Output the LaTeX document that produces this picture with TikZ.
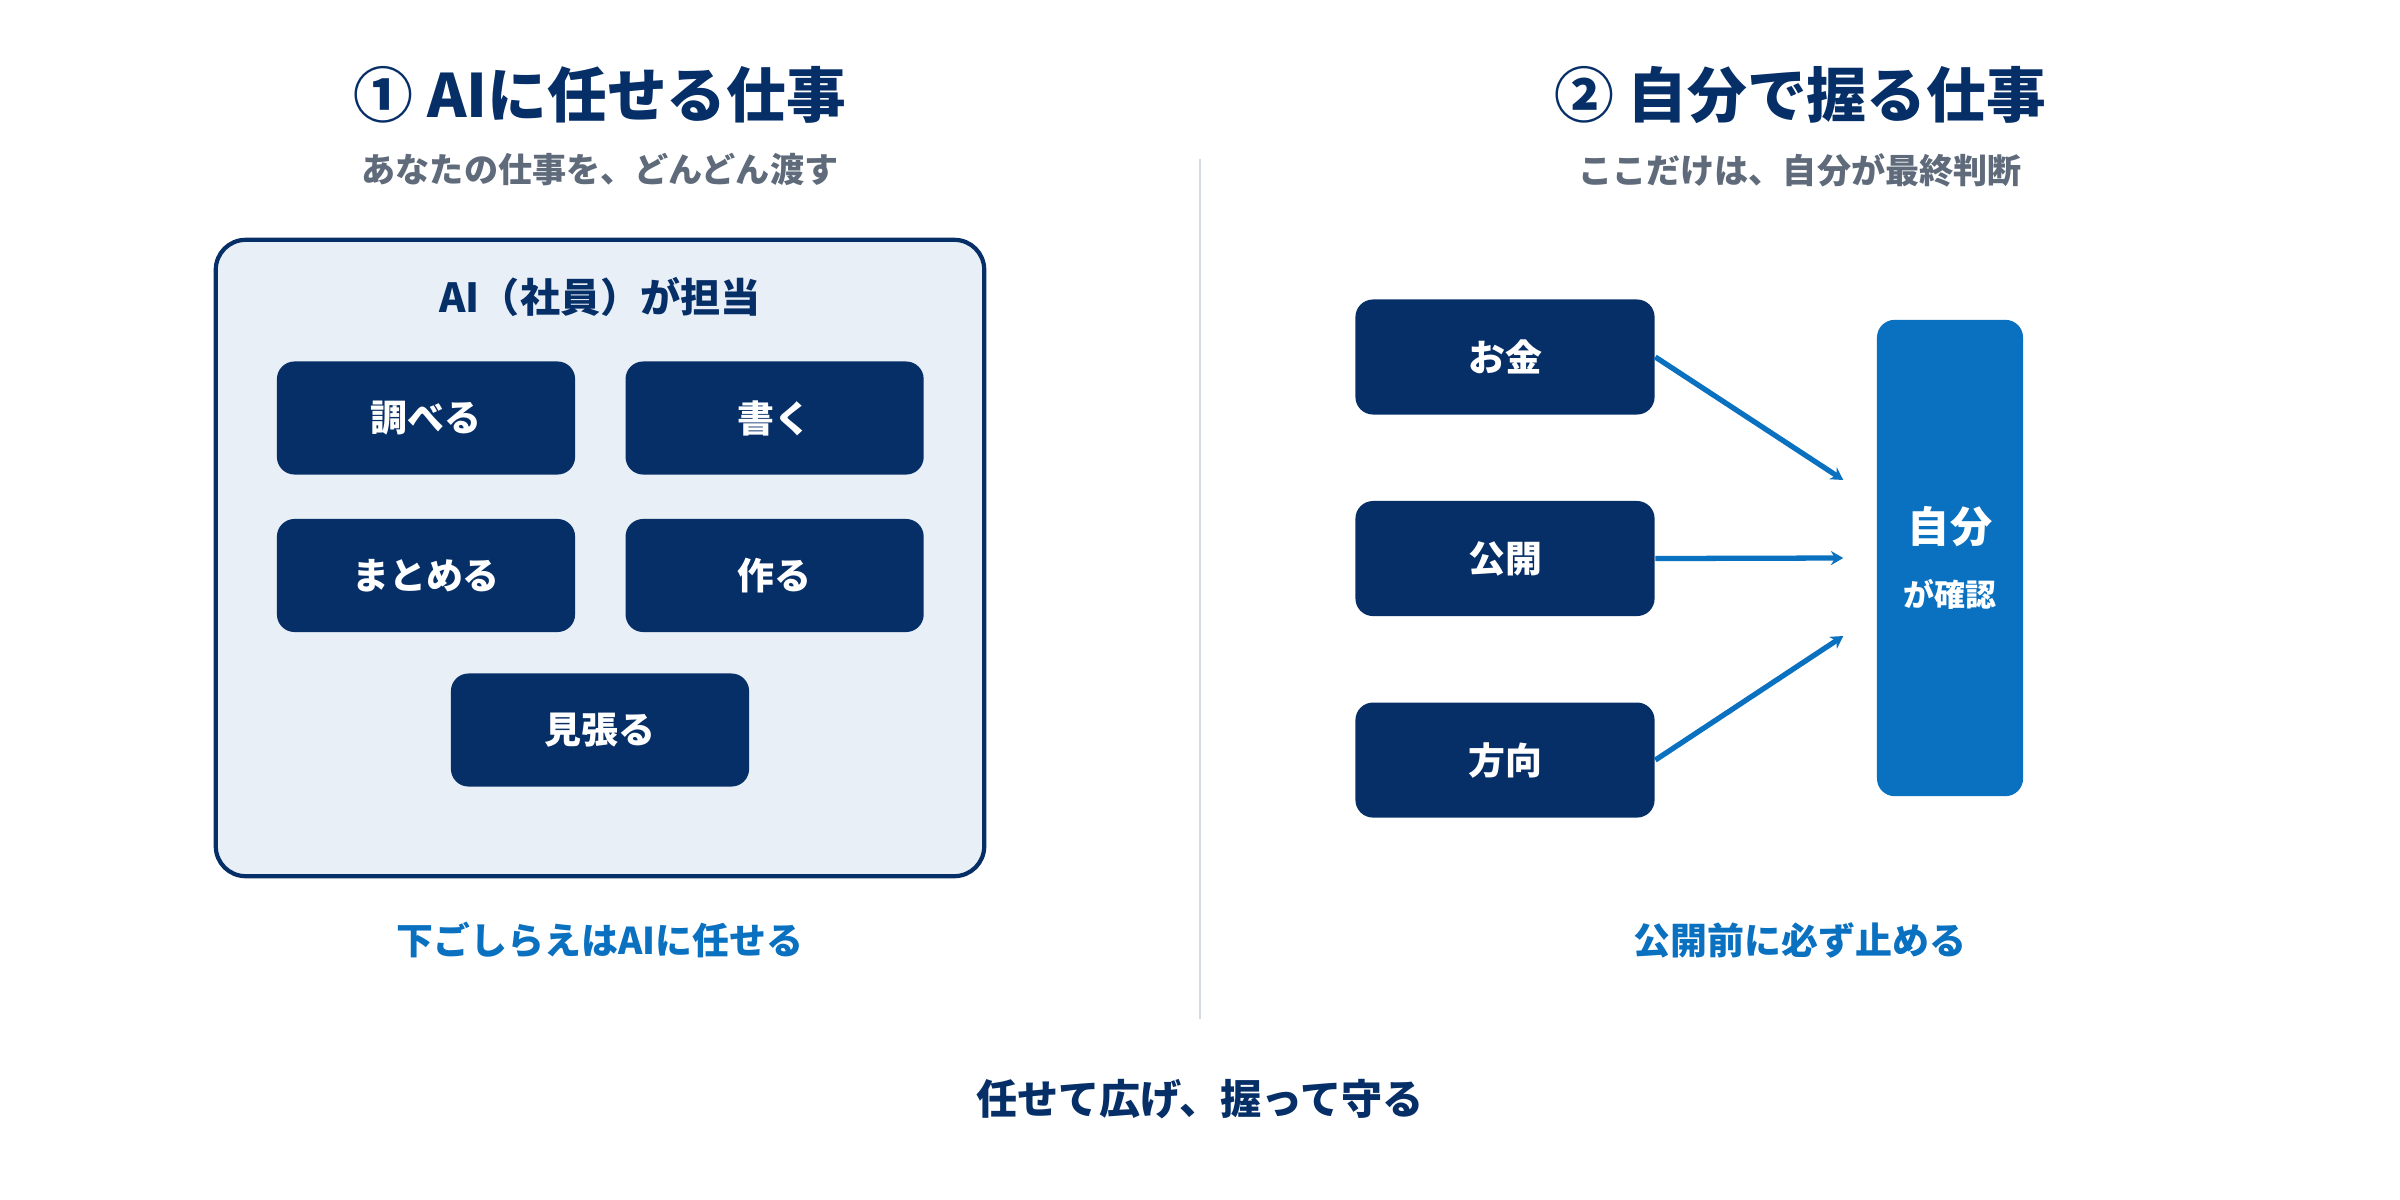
\documentclass[tikz,border=0pt]{standalone}
\usepackage{fontspec}
\setmainfont{Noto Sans CJK JP}
\usepackage{tikz}
\usetikzlibrary{arrows.meta, positioning, calc}
\definecolor{navy}{RGB}{6,47,104}
\definecolor{midblue}{RGB}{10,112,192}
\definecolor{subgray}{RGB}{95,107,122}
\definecolor{panelfill}{RGB}{232,239,247}
\definecolor{rulegray}{RGB}{214,218,225}
\tikzset{
  headline/.style={text=navy, font=\fontsize{17}{20}\selectfont\bfseries},
  subline/.style={text=subgray, font=\fontsize{9.7}{12}\selectfont\bfseries},
  panel/.style={rectangle, rounded corners=8.5pt, draw=navy, line width=1.2pt,
                fill=panelfill, minimum width=7.68cm, minimum height=6.36cm},
  taskbox/.style={rectangle, rounded corners=5pt, fill=navy, text=white,
                  minimum width=2.98cm, minimum height=1.13cm,
                  font=\fontsize{10.5}{12}\selectfont\bfseries},
  gatebox/.style={rectangle, rounded corners=5pt, fill=midblue, text=white,
                  minimum width=1.46cm, minimum height=4.76cm, align=center},
  caption/.style={text=midblue, font=\fontsize{10.5}{12}\selectfont\bfseries},
  arrow/.style={-{Stealth[length=3.5pt,width=4pt]}, line width=1.5pt, draw=midblue},
  divider/.style={draw=rulegray, line width=0.6pt},
}
\begin{document}
\begin{tikzpicture}[x=0.01cm, y=-0.01cm]
    \useasboundingbox (0,0) rectangle (2400,1200);
    % left: work handed to AI
    \node[headline] (title1) at (600,95) {① AIに任せる仕事};
    \node[subline] (sub1) at (600,170) {あなたの仕事を、どんどん渡す};
    \node[panel] (panel) at (600,558) {};
    \node[text=navy, font=\fontsize{11.4}{13}\selectfont\bfseries] (ptitle) at (600,297) {AI（社員）が担当};
    \node[taskbox] (research) at (426,418) {調べる};
    \node[taskbox, right=0.49cm of research] (write) {書く};
    \node[taskbox, below=0.43cm of research] (summarize) {まとめる};
    \node[taskbox, right=0.49cm of summarize] (make) {作る};
    \node[taskbox] (watch) at (600,730) {見張る};
    \node[caption] (cap1) at (600,940) {下ごしらえはAIに任せる};
    % divider
    \coordinate (divtop) at (1200,159);
    \coordinate (divbot) at (1200,1019);
    \draw[divider] (divtop) -- (divbot);
    % right: work kept in hand
    \node[headline] (title2) at (1800,95) {② 自分で握る仕事};
    \node[subline] (sub2) at (1800,170) {ここだけは、自分が最終判断};
    \node[taskbox, minimum width=2.99cm, minimum height=1.15cm] (money) at (1505,357) {お金};
    \node[taskbox, minimum width=2.99cm, minimum height=1.15cm, below=0.85cm of money] (release) {公開};
    \node[taskbox, minimum width=2.99cm, minimum height=1.15cm, below=0.85cm of release] (direction) {方向};
    \node[gatebox] (me) at (1950,558)
      {{\fontsize{12}{13}\selectfont\bfseries 自分}\\[6pt]{\fontsize{8.8}{10}\selectfont\bfseries が確認}};
    \coordinate (in1) at ($(me.west)+(-33,-78)$);
    \coordinate (in2) at ($(me.west)+(-33,0)$);
    \coordinate (in3) at ($(me.west)+(-33,78)$);
    \draw[arrow] (money.east) -- (in1);
    \draw[arrow] (release.east) -- (in2);
    \draw[arrow] (direction.east) -- (in3);
    \node[caption] (cap2) at (1800,940) {公開前に必ず止める};
    % bottom line
    \node[text=navy, font=\fontsize{11.7}{14}\selectfont\bfseries] (motto) at (1200,1099) {任せて広げ、握って守る};
  \end{tikzpicture}
\end{document}
